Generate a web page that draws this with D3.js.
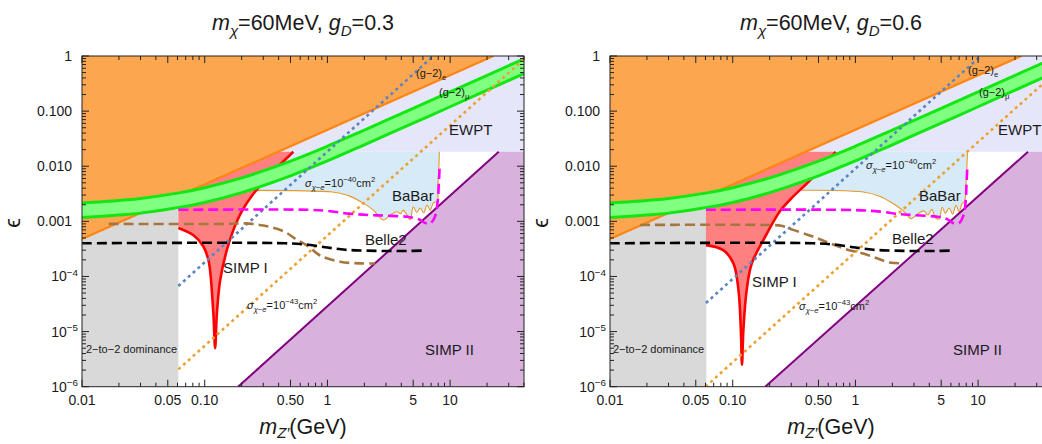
<!DOCTYPE html>
<html>
<head>
<meta charset="utf-8">
<script src="https://cdn.jsdelivr.net/npm/d3@7"></script>
<style>
  body { margin: 0; background: #fff; }
  svg { display: block; font-family: "Liberation Sans", Arial, sans-serif; }
</style>
</head>
<body>
<svg id="chart" width="1042" height="444"></svg>
<script>
// tick labels
var xTickValues = [0.01, 0.05, 0.1, 0.5, 1, 5, 10];
var xTickLabels = ["0.01", "0.05", "0.10", "0.50", "1", "5", "10"];
var yTickValues = [1, 0.1, 0.01, 0.001, 1e-4, 1e-5, 1e-6];
var yTickLabels = ["1", "0.100", "0.010", "0.001", "10^−4", "10^−5", "10^−6"];

// shared bounds (same in both panels)
var orangeX = [0.01, 22.5];
var orangeY = [4.8e-4, 1];
var ewptLevel = 0.0183;
var grayX = [0.01, 0.061];
var grayY = [1e-6, 1.6e-3];

// (g-2)_mu band
var g2muX = [0.01, 0.02, 0.03, 0.06, 0.1, 0.2, 0.5, 1, 2, 5, 10, 40];
var g2muUpper = [2.16e-3, 2.4e-3, 2.61e-3, 3.25e-3, 4.08e-3, 6.15e-3, 0.0124, 0.0231, 0.0453, 0.112, 0.223, 0.89];
var g2muLower = [1.17e-3, 1.3e-3, 1.41e-3, 1.76e-3, 2.2e-3, 3.32e-3, 6.7e-3, 0.0125, 0.0245, 0.0605, 0.12, 0.48];

// Belle2 projection
var belle2X = [0.01, 0.45, 0.7, 1.0, 1.4, 2.0, 3.0, 4.5, 6.1];
var belle2Y = [4.0e-4, 4.0e-4, 3.75e-4, 3.35e-4, 3.05e-4, 2.95e-4, 2.9e-4, 2.9e-4, 2.95e-4];

// gD = 0.3
var simp1X03 = [0.061, 0.081, 0.0976, 0.1072, 0.1106, 0.1177, 0.1216, 0.1256, 0.1337, 0.1514, 0.1714, 0.2, 0.25, 0.341, 0.528];
var simp1Y03 = [7.6e-4, 5.6e-4, 3.5e-4, 2.0e-4, 1.3e-4, 2.1e-5, 5.0e-6, 2.1e-5, 8.6e-5, 3.0e-4, 7.0e-4, 1.5e-3, 3.2e-3, 7.0e-3, 0.0183];
var simp2X03 = [0.187, 24.9];
var simp2Y03 = [1e-6, 0.0183];
var babarX03 = [0.01, 1.1, 1.5, 1.96, 2.37, 2.85, 3.25, 3.69, 3.95, 4.15, 4.45, 4.73, 5.01, 5.35, 5.71, 6.1, 6.48, 6.9, 7.29, 7.82, 7.95, 8.1, 8.17];
var babarY03 = [3.4e-3, 3.4e-3, 2.9e-3, 2.14e-3, 1.6e-3, 1.06e-3, 1.3e-3, 1.49e-3, 1.38e-3, 1.6e-3, 1.3e-3, 1.06e-3, 1.84e-3, 1.45e-3, 1.74e-3, 1.42e-3, 1.98e-3, 1.6e-3, 2.15e-3, 2.3e-3, 4.5e-3, 0.01, 0.0183];
var magentaX03 = [0.061, 0.7, 1.0, 1.5, 2.2, 3.0, 4.45, 5.5, 6.3, 6.9, 7.5, 7.9, 8.1, 8.2];
var magentaY03 = [1.62e-3, 1.62e-3, 1.55e-3, 1.38e-3, 1.3e-3, 1.27e-3, 1.21e-3, 1.1e-3, 9.3e-4, 9.2e-4, 1.2e-3, 2.2e-3, 5e-3, 9.2e-3];
var brownX03 = [0.0165, 0.15, 0.21, 0.3, 0.44, 0.55, 0.7, 0.87, 1.27, 1.85, 2.45];
var brownY03 = [9e-4, 9e-4, 9.2e-4, 8.4e-4, 6.6e-4, 4.8e-4, 3.5e-4, 2.4e-4, 1.85e-4, 1.73e-4, 1.72e-4];
var g2eX03 = [0.061, 7.3];
var g2eY03 = [6.7e-5, 1];
var sigmaX03 = [0.061, 40];
var sigmaY03 = [2.06e-6, 0.88];

// gD = 0.6
var simp1X06 = [0.0605, 0.0837, 0.1014, 0.1114, 0.1165, 0.119, 0.1222, 0.130, 0.143, 0.178, 0.244, 0.30, 0.428, 0.69];
var simp1Y06 = [3.7e-4, 3.0e-4, 1.73e-4, 5.7e-5, 1.07e-5, 2.5e-6, 1.07e-5, 5.7e-5, 1.73e-4, 4.6e-4, 1.55e-3, 2.6e-3, 5.6e-3, 0.0183];
var simp2X06 = [0.184, 25.5];
var simp2Y06 = [1e-6, 0.0183];
var babarX06 = [0.01, 1.16, 1.6, 2.1, 2.5, 2.85, 3.2, 3.6, 3.9, 4.2, 4.5, 4.8, 5.1, 5.4, 5.8, 6.2, 6.6, 7.0, 7.4, 7.75, 7.95, 8.1, 8.2];
var babarY06 = [3.4e-3, 3.4e-3, 2.8e-3, 2.0e-3, 1.5e-3, 1.12e-3, 1.35e-3, 1.55e-3, 1.3e-3, 1.65e-3, 1.15e-3, 1.1e-3, 1.8e-3, 1.4e-3, 1.75e-3, 1.35e-3, 1.95e-3, 1.5e-3, 2.1e-3, 2.3e-3, 4.5e-3, 0.01, 0.0183];
var magentaX06 = [0.0605, 1.0, 1.6, 2.3, 3.0, 4.65, 5.6, 6.3, 7.0, 7.6, 7.9, 8.05, 8.15];
var magentaY06 = [1.62e-3, 1.6e-3, 1.5e-3, 1.35e-3, 1.3e-3, 1.21e-3, 1.1e-3, 9.2e-4, 9.3e-4, 1.3e-3, 2.2e-3, 5e-3, 8.8e-3];
var brownX06 = [0.0176, 0.18, 0.25, 0.31, 0.45, 0.62, 0.85, 1.16, 1.9, 2.4];
var brownY06 = [8.6e-4, 8.6e-4, 8.3e-4, 7e-4, 5.3e-4, 4e-4, 3.1e-4, 2.6e-4, 1.8e-4, 1.73e-4];
var g2eX06 = [0.0605, 10.5];
var g2eY06 = [3.3e-5, 1];
var sigmaX06 = [0.06, 40];
var sigmaY06 = [1e-6, 0.44];

//////////

var svg = d3.select("#chart");
var plotTop = 56, plotBottom = 386.7, plotWidth = 442;

function pts(xs, ys) {
  return xs.map(function(x, i) { return [x, ys[i]]; });
}

// text with sub / superscripts: parts are [text, mode], mode "i" italic, "s" sub, "si" italic sub, "S" sup
function rich(sel, x, y, size, parts, anchor, subShift) {
  var t = sel.append("text")
    .attr("x", x).attr("y", y)
    .attr("font-size", size)
    .attr("fill", "#1a1a1a")
    .attr("text-anchor", anchor || "start");
  var shift = 0;
  var down = subShift || 0.3;
  parts.forEach(function(p) {
    var mode = p[1] || "";
    var want = mode.indexOf("s") === 0 ? size * down : mode === "S" ? -size * 0.42 : 0;
    var ts = t.append("tspan").attr("dy", want - shift).text(p[0]);
    shift = want;
    if (want !== 0) ts.attr("font-size", size * 0.7);
    if (mode === "i" || mode === "si") ts.attr("font-style", "italic");
  });
  return t;
}

var panels = [
  {
    x0: 82, gD: "0.3",
    simp1X: simp1X03, simp1Y: simp1Y03, simp2X: simp2X03, simp2Y: simp2Y03,
    babarX: babarX03, babarY: babarY03, magentaX: magentaX03, magentaY: magentaY03,
    brownX: brownX03, brownY: brownY03, g2eX: g2eX03, g2eY: g2eY03,
    sigmaX: sigmaX03, sigmaY: sigmaY03,
    // label anchors: [dx from frame left, baseline]
    pos: { g2e: [334, 77], g2mu: [357, 96], ewpt: [367, 135], s40: [223, 187], babar: [310, 201],
           belle2: [283, 245], simp1: [141, 273], s43: [165, 309], simp2: [343, 355], dom: [4, 353] }
  },
  {
    x0: 610, gD: "0.6",
    simp1X: simp1X06, simp1Y: simp1Y06, simp2X: simp2X06, simp2Y: simp2Y06,
    babarX: babarX06, babarY: babarY06, magentaX: magentaX06, magentaY: magentaY06,
    brownX: brownX06, brownY: brownY06, g2eX: g2eX06, g2eY: g2eY06,
    sigmaX: sigmaX06, sigmaY: sigmaY06,
    pos: { g2e: [358, 74], g2mu: [369, 96], ewpt: [388, 135], s40: [256, 169], babar: [309, 201],
           belle2: [282, 244], simp1: [142, 287], s43: [189, 310], simp2: [343, 355], dom: [3, 353] }
  }
];

panels.forEach(drawPanel);

function drawPanel(p) {
  var x = d3.scaleLog().domain([0.01, 40]).range([p.x0, p.x0 + plotWidth]);
  var y = d3.scaleLog().domain([1e-6, 1]).range([plotBottom, plotTop]);

  var clipId = "clip" + p.x0;
  svg.append("clipPath").attr("id", clipId)
    .append("rect")
    .attr("x", p.x0).attr("y", plotTop)
    .attr("width", plotWidth).attr("height", plotBottom - plotTop);

  var g = svg.append("g").attr("clip-path", "url(#" + clipId + ")");

  var line = d3.line().x(function(d) { return x(d[0]); }).y(function(d) { return y(d[1]); });
  var smooth = d3.line().x(function(d) { return x(d[0]); }).y(function(d) { return y(d[1]); })
    .curve(d3.curveCatmullRom.alpha(0.5));
  function xy(a, b) { return x(a) + "," + y(b); }

  // EWPT
  g.append("path")
    .attr("d", line([[0.01, ewptLevel], [40, ewptLevel], [40, 1], [0.01, 1]]) + "Z")
    .attr("fill", "#e6e6fa");

  // BaBar region + curve
  var babar = pts(p.babarX, p.babarY);
  g.append("path")
    .attr("d", smooth(babar) + "L" + xy(0.01, ewptLevel) + "Z")
    .attr("fill", "#d6eaf8");
  g.append("path")
    .attr("d", smooth(babar))
    .attr("fill", "none").attr("stroke", "#e39a2a").attr("stroke-width", 1.1);

  // 2-to-2 dominance
  g.append("rect")
    .attr("x", x(grayX[0])).attr("y", y(grayY[1]))
    .attr("width", x(grayX[1]) - x(grayX[0]))
    .attr("height", y(grayY[0]) - y(grayY[1]))
    .attr("fill", "#d9d9d9");

  // SIMP I
  var simp1 = pts(p.simp1X, p.simp1Y);
  g.append("path")
    .attr("d", smooth(simp1) + "L" + xy(p.simp1X[0], ewptLevel) + "Z")
    .attr("fill", "#ff8080");
  g.append("path")
    .attr("d", smooth(simp1))
    .attr("fill", "none").attr("stroke", "#ff0000").attr("stroke-width", 2.6);

  // SIMP II
  var simp2 = pts(p.simp2X, p.simp2Y);
  g.append("path")
    .attr("d", line(simp2) + "L" + xy(45, ewptLevel) + "L" + xy(45, 1e-6) + "Z")
    .attr("fill", "#d8b1dc");
  g.append("path")
    .attr("d", line(simp2))
    .attr("fill", "none").attr("stroke", "#800080").attr("stroke-width", 2);

  // excluded (orange)
  var orange = pts(orangeX, orangeY);
  g.append("path")
    .attr("d", line(orange) + "L" + xy(0.01, 1) + "Z")
    .attr("fill", "#fca64f");
  g.append("path")
    .attr("d", line(orange))
    .attr("fill", "none").attr("stroke", "#ff8515").attr("stroke-width", 2.2);

  // (g-2)_mu band
  var band = g2muX.map(function(v, i) { return { x: v, lo: g2muLower[i], hi: g2muUpper[i] }; });
  g.append("path")
    .attr("d", d3.area()
      .x(function(d) { return x(d.x); })
      .y0(function(d) { return y(d.lo); })
      .y1(function(d) { return y(d.hi); })
      .curve(d3.curveCatmullRom.alpha(0.5))(band))
    .attr("fill", "#80ff80");
  [g2muUpper, g2muLower].forEach(function(edge) {
    g.append("path")
      .attr("d", smooth(pts(g2muX, edge)))
      .attr("fill", "none").attr("stroke", "#14e614").attr("stroke-width", 3);
  });

  // dotted lines
  g.append("path")
    .attr("d", line(pts(p.g2eX, p.g2eY)))
    .attr("fill", "none").attr("stroke", "#5b84c0").attr("stroke-width", 2.6)
    .attr("stroke-dasharray", "3,3.5");
  g.append("path")
    .attr("d", line(pts(p.sigmaX, p.sigmaY)))
    .attr("fill", "none").attr("stroke", "#eba235").attr("stroke-width", 2.6)
    .attr("stroke-dasharray", "3,3.5");

  // dashed projections
  g.append("path")
    .attr("d", smooth(pts(p.brownX, p.brownY)))
    .attr("fill", "none").attr("stroke", "#a5773f").attr("stroke-width", 2.6)
    .attr("stroke-dasharray", "10,5");
  g.append("path")
    .attr("d", smooth(pts(belle2X, belle2Y)))
    .attr("fill", "none").attr("stroke", "#000").attr("stroke-width", 2.6)
    .attr("stroke-dasharray", "10,5");
  g.append("path")
    .attr("d", smooth(pts(p.magentaX, p.magentaY)))
    .attr("fill", "none").attr("stroke", "#ff00ff").attr("stroke-width", 2.6)
    .attr("stroke-dasharray", "10,5");

  // labels
  var L = svg.append("g");
  var q = p.pos;
  function at(k) { return [p.x0 + q[k][0], q[k][1]]; }
  rich(L, at("g2e")[0], at("g2e")[1], 11, [["(g−2)"], ["e", "s"]]);
  rich(L, at("g2mu")[0], at("g2mu")[1], 11, [["(g−2)"], ["μ", "s"]]);
  rich(L, at("ewpt")[0], at("ewpt")[1], 15, [["EWPT"]]);
  rich(L, at("s40")[0], at("s40")[1], 11, [["σ", "i"], ["χ−e", "si"], ["=10"], ["−40", "S"], ["cm"], ["2", "S"]]);
  rich(L, at("babar")[0], at("babar")[1], 15, [["BaBar"]]);
  rich(L, at("belle2")[0], at("belle2")[1], 15, [["Belle2"]]);
  rich(L, at("simp1")[0], at("simp1")[1], 15, [["SIMP I"]]);
  rich(L, at("s43")[0], at("s43")[1], 11, [["σ", "i"], ["χ−e", "si"], ["=10"], ["−43", "S"], ["cm"], ["2", "S"]]);
  rich(L, at("simp2")[0], at("simp2")[1], 15, [["SIMP II"]]);
  rich(L, at("dom")[0], at("dom")[1], 11, [["2−to−2 dominance"]]);

  // frame + ticks
  var A = svg.append("g").attr("stroke", "#222").attr("stroke-width", 1);
  A.append("rect")
    .attr("x", p.x0).attr("y", plotTop)
    .attr("width", plotWidth).attr("height", plotBottom - plotTop)
    .attr("fill", "none");

  var xMinor = [];
  [0.01, 0.1, 1, 10].forEach(function(d) {
    for (var k = 1; k < 10; k++) { if (k * d <= 40.001) xMinor.push(k * d); }
  });
  xMinor.forEach(function(v) {
    var major = xTickValues.some(function(t) { return Math.abs(t - v) < v * 1e-6; });
    var len = major ? 7 : 4;
    A.append("line").attr("x1", x(v)).attr("x2", x(v)).attr("y1", plotBottom).attr("y2", plotBottom - len);
    A.append("line").attr("x1", x(v)).attr("x2", x(v)).attr("y1", plotTop).attr("y2", plotTop + len);
  });
  var yMinor = [];
  [1e-6, 1e-5, 1e-4, 1e-3, 1e-2, 0.1].forEach(function(d) {
    for (var k = 1; k < 10; k++) yMinor.push(k * d);
  });
  yMinor.push(1);
  yMinor.forEach(function(v) {
    var major = yTickValues.some(function(t) { return Math.abs(t - v) < v * 1e-6; });
    var len = major ? 7 : 4;
    A.append("line").attr("x1", p.x0).attr("x2", p.x0 + len).attr("y1", y(v)).attr("y2", y(v));
    A.append("line").attr("x1", p.x0 + plotWidth).attr("x2", p.x0 + plotWidth - len).attr("y1", y(v)).attr("y2", y(v));
  });

  // tick labels
  xTickValues.forEach(function(v, i) {
    rich(svg, x(v), 405, 14, [[xTickLabels[i]]], "middle");
  });
  yTickValues.forEach(function(v, i) {
    var s = yTickLabels[i].split("^");
    if (s.length > 1) rich(svg, p.x0 - 4, y(v) + 5, 14, [[s[0]], [s[1], "S"]], "end");
    else rich(svg, p.x0 - 10, y(v) + 5, 14, [[s[0]]], "end");
  });

  // titles
  var cx = p.x0 + plotWidth / 2;
  rich(svg, cx, 30, 21.5, [["m", "i"], ["χ", "si"], ["=60MeV, "], ["g", "i"], ["D", "si"], ["=" + p.gD]], "middle");
  rich(svg, cx, 434, 21.5, [["m", "i"], ["Z′", "si"], ["(GeV)"]], "middle", 0.2);
  rich(svg, 0, 0, 22, [["ϵ"]], "middle")
    .attr("transform", "translate(" + (p.x0 - 62) + "," + 223 + ") rotate(-90)");
}
</script>
</body>
</html>
